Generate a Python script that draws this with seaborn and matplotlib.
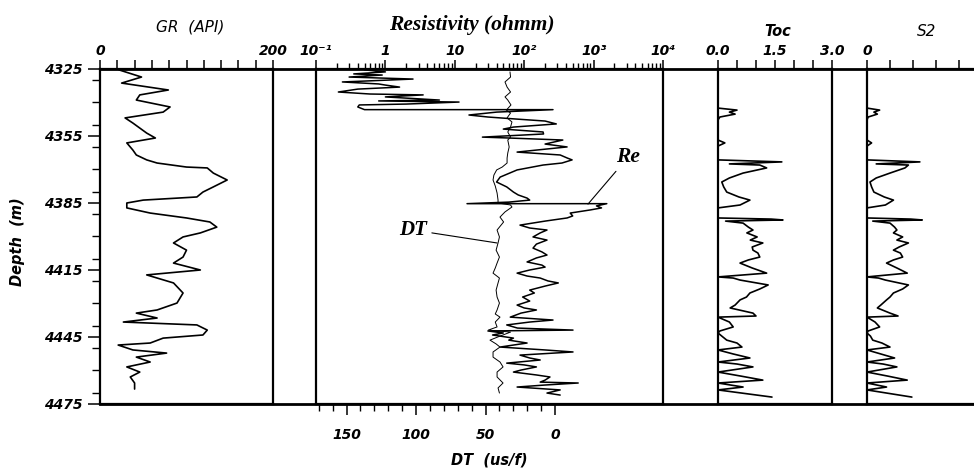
import matplotlib
matplotlib.use("Agg")
import matplotlib.pyplot as plt
import seaborn as sns
import pandas as pd
from matplotlib.ticker import FixedLocator, FixedFormatter, LogLocator, NullFormatter, MultipleLocator

# ---------------- data ----------------
gr_depth = [4325.4, 4328.6, 4331.3, 4334.4, 4336.6, 4338.9, 4342.0, 4344.3, 4346.9, 4349.2,
            4353.7, 4355.9, 4358.1, 4361.3, 4363.5, 4365.7, 4367.1, 4368.9, 4369.3, 4371.6,
            4374.7, 4377.8, 4380.1, 4382.3, 4383.7, 4385.0, 4387.2, 4389.5, 4391.7, 4393.5,
            4395.8, 4398.4, 4400.2, 4402.9, 4406.1, 4409.2, 4411.9, 4415.0, 4417.2, 4420.8,
            4425.3, 4429.8, 4432.9, 4434.3, 4436.5, 4438.3, 4439.6, 4441.9, 4444.1, 4445.5,
            4447.7, 4448.6, 4450.8, 4452.2, 4454.0, 4456.2, 4458.4, 4460.7, 4462.9, 4465.6,
            4468.3]
gr_api = [22, 48, 25, 79, 46, 42, 81, 73, 29, 38,
          54, 64, 31, 38, 42, 54, 66, 100, 124, 131,
          147, 131, 119, 112, 50, 31, 31, 58, 100, 127,
          135, 116, 96, 85, 100, 96, 85, 116, 54, 85,
          96, 89, 66, 42, 66, 27, 112, 124, 119, 73,
          58, 21, 38, 77, 42, 58, 31, 46, 35, 40,
          40]

re_depth = [4325.4, 4326.3, 4327.2, 4327.7, 4328.6, 4329.5, 4330.4, 4330.8, 4331.7, 4332.2,
            4333.1, 4334.0, 4335.3, 4336.2, 4336.6, 4337.5, 4338.9, 4339.3, 4339.8, 4340.7,
            4341.1, 4342.0, 4343.2, 4343.2, 4344.3, 4345.6, 4346.5, 4347.4, 4348.3, 4349.6,
            4351.0, 4351.9, 4353.2, 4354.1, 4355.5, 4355.9, 4356.8, 4358.6, 4359.9, 4361.3,
            4362.2, 4363.5, 4364.9, 4365.7, 4367.1, 4368.0, 4370.2, 4373.4, 4375.6, 4377.8,
            4380.1, 4381.4, 4382.8, 4383.7, 4384.6, 4385.3, 4385.3, 4386.3, 4387.2, 4388.1,
            4389.5, 4390.8, 4391.7, 4393.1, 4394.9, 4396.2, 4397.1, 4398.4, 4400.2, 4401.6,
            4403.4, 4405.2, 4406.9, 4408.3, 4409.6, 4411.4, 4412.8, 4413.7, 4415.0, 4416.4,
            4417.7, 4418.6, 4419.9, 4420.8, 4422.2, 4424.0, 4425.3, 4427.1, 4428.9, 4430.7,
            4432.0, 4432.9, 4434.3, 4436.1, 4437.4, 4438.3, 4439.6, 4441.0, 4441.9, 4442.3,
            4443.2, 4444.1, 4445.5, 4446.4, 4447.7, 4448.6, 4449.5, 4450.8, 4451.7, 4453.1,
            4454.4, 4455.3, 4456.7, 4457.5, 4458.4, 4459.8, 4460.7, 4462.0, 4462.9, 4464.3,
            4465.2, 4465.6, 4466.5, 4467.4, 4468.7, 4470.1, 4471.0]
re_ohmm = [0.5, 1.0, 0.35, 0.9, 0.3, 2.5, 0.5, 0.24, 0.8, 1.0,
           1.6, 0.4, 0.21, 0.6, 3.5, 1.0, 6, 0.8, 11.5, 2,
           0.42, 0.4, 0.5, 260, 40, 16, 30, 76, 200, 290,
           70, 50, 187, 190, 25, 60, 360, 200, 415, 150,
           79, 330, 420, 490, 350, 187, 79, 45, 40, 56,
           70, 82, 110, 120, 60, 15, 1550, 1100, 1300, 900,
           460, 500, 415, 200, 87, 120, 213, 170, 134, 213,
           150, 134, 180, 213, 150, 110, 180, 200, 120, 79,
           110, 170, 220, 310, 200, 120, 140, 95, 120, 79,
           100, 150, 90, 63, 260, 120, 56, 80, 505, 30,
           50, 35, 70, 60, 110, 70, 45, 200, 505, 87,
           120, 170, 56, 100, 150, 90, 70, 150, 235, 200,
           170, 600, 200, 79, 330, 213, 330]

dt_depth = [4326.3, 4328.6, 4330.8, 4333.1, 4335.3, 4337.5, 4338.9, 4341.1, 4343.4, 4344.7,
            4346.9, 4348.7, 4351.0, 4353.2, 4355.5, 4356.8, 4359.9, 4362.6, 4364.9, 4367.1,
            4368.9, 4370.2, 4372.5, 4374.7, 4377.4, 4380.5, 4383.7, 4385.0, 4385.9, 4386.8,
            4389.0, 4391.3, 4393.5, 4397.1, 4400.2, 4402.9, 4406.1, 4409.2, 4411.9, 4414.1,
            4416.4, 4418.6, 4420.8, 4424.0, 4427.1, 4429.8, 4432.9, 4434.7, 4436.1, 4438.3,
            4440.5, 4441.9, 4442.8, 4444.6, 4446.4, 4448.1, 4449.5, 4451.7, 4454.0, 4456.2,
            4458.4, 4460.7, 4462.9, 4465.6, 4467.8, 4470.1]
dt_usf = [32.4, 32, 36, 34.5, 32, 36, 34, 31.7, 35, 32,
          34.5, 31, 32, 34, 32, 34, 33, 34, 34.5, 34.5,
          38, 42, 44, 44.6, 43, 41.7, 41, 41, 32, 31,
          36, 39.6, 37, 41.7, 40, 41, 42.4, 40, 41.7, 43,
          44.6, 40, 41, 42.4, 41.7, 40, 41.7, 43, 39.6, 43,
          41.7, 48, 32, 39.6, 46.8, 42.4, 39.6, 44.6, 44.6, 39.6,
          37.4, 41.7, 41.7, 37.4, 41, 40]

geo_depth = [4326.3, 4342.5, 4343.4, 4344.3, 4345.2, 4346.5, 4347.8, 4356.8, 4358.1, 4359.5,
             4365.7, 4366.6, 4367.5, 4368.0, 4369.3, 4371.6, 4373.8, 4375.6, 4377.8, 4380.1,
             4382.3, 4383.7, 4385.9, 4387.2, 4391.7, 4392.2, 4392.6, 4393.1, 4394.0, 4395.8,
             4397.1, 4398.4, 4400.2, 4401.6, 4402.9, 4404.7, 4406.1, 4407.4, 4409.2, 4410.5,
             4411.9, 4414.1, 4416.4, 4417.7, 4418.1, 4418.6, 4419.5, 4421.7, 4423.5, 4425.3,
             4427.1, 4428.4, 4430.7, 4432.0, 4434.3, 4435.6, 4436.1, 4438.3, 4440.5, 4442.3,
             4443.2, 4444.6, 4446.4, 4447.7, 4449.5, 4450.8, 4452.6, 4454.4, 4456.2, 4457.1,
             4458.4, 4460.7, 4462.5, 4464.3, 4465.6, 4467.4, 4468.7, 4471.9]
toc_pct = [0.0, 0.0, 0.5, 0.3, 0.45, 0.05, 0.0, 0.0, 0.18, 0.0,
           0.0, 1.68, 0.3, 1.1, 1.28, 0.66, 0.3, 0.1, 0.15, 0.23,
           0.55, 0.84, 0.58, 0.0, 0.0, 1.4, 1.71, 0.2, 0.66, 0.8,
           0.92, 0.76, 1.03, 0.85, 1.18, 0.9, 0.92, 1.05, 1.1, 0.8,
           0.58, 0.9, 1.28, 0.3, 0.0, 0.4, 0.58, 1.32, 1.1, 0.84,
           0.75, 0.58, 0.45, 0.32, 0.92, 1.0, 0.0, 0.3, 0.4, 0.05,
           0.0, 0.1, 0.23, 0.5, 0.63, 0.0, 0.4, 0.84, 0.0, 0.5,
           0.92, 0.0, 0.6, 1.18, 0.0, 0.66, 0.0, 1.42]
s2_mgg = [0.0, 0.0, 1.1, 0.6, 0.9, 0.1, 0.0, 0.0, 0.4, 0.0,
          0.0, 4.6, 0.8, 3.6, 3.3, 2.0, 0.8, 0.26, 0.4, 0.6,
          1.5, 2.3, 1.6, 0.0, 0.0, 3.8, 4.8, 0.5, 2.0, 2.4,
          2.6, 2.3, 3.1, 2.6, 3.6, 2.8, 2.3, 2.9, 3.1, 2.3,
          1.7, 2.6, 3.5, 0.8, 0.0, 1.0, 1.6, 3.6, 3.1, 2.3,
          2.0, 1.7, 1.2, 0.9, 2.0, 2.7, 0.0, 0.7, 1.1, 0.1,
          0.0, 0.3, 0.5, 1.3, 2.0, 0.0, 1.2, 2.4, 0.0, 1.4,
          2.6, 0.0, 1.8, 3.5, 0.0, 1.7, 0.0, 3.9]

depth_ticks = [4325, 4355, 4385, 4415, 4445, 4475]
res_ticks = [0.1, 1, 10, 100, 1000, 10000]
res_labels = ["10⁻¹", "1", "10", "10²", "10³", "10⁴"]
dt_ticks = [150, 100, 50, 0]

# ---------------- style ----------------
sns.set_style("white")
plt.rcParams["font.family"] = ["DejaVu Sans"]
plt.rcParams["text.color"] = "black"
plt.rcParams["axes.labelcolor"] = "black"
plt.rcParams["xtick.color"] = "black"
plt.rcParams["ytick.color"] = "black"
plt.rcParams["xtick.labelcolor"] = "black"
plt.rcParams["ytick.labelcolor"] = "black"
SERIF = ["Liberation Serif", "DejaVu Serif"]
TICKFONT = dict(fontsize=10, fontstyle="italic", fontweight="bold", color="black")

W, Hpx = 974, 470
fig = plt.figure(figsize=(W / 100, Hpx / 100), dpi=100)
B = (Hpx - 404) / Hpx
H = 335 / Hpx

def px(x0, x1):
    return [x0 / W, B, (x1 - x0) / W, H]

SP_LW = 1.6

bg = fig.add_axes(px(100, 974))
bg.set_xticks([]); bg.set_yticks([])
for s in ["left", "right"]:
    bg.spines[s].set_visible(False)
for s in ["top", "bottom"]:
    bg.spines[s].set_linewidth(2.0)
    bg.spines[s].set_color("black")
bg.patch.set_alpha(0)

def top_ticks(ax):
    ax.xaxis.tick_top()
    ax.tick_params(axis="x", which="major", direction="out", length=6.5, width=1.1, pad=1.5, colors="black")
    ax.tick_params(axis="x", which="minor", direction="out", length=4.3, width=1.0, colors="black")

def track(x0, x1, right=True):
    ax = fig.add_axes(px(x0, x1))
    ax.patch.set_alpha(0)
    for s in ["left", "right", "top", "bottom"]:
        ax.spines[s].set_color("black")
        ax.spines[s].set_linewidth(SP_LW)
    ax.spines["right"].set_visible(right)
    ax.set_ylim(4475, 4325)
    top_ticks(ax)
    ax.tick_params(axis="y", which="both", left=False, right=False, labelleft=False)
    return ax

def line(ax, xs, ys, lw):
    df = pd.DataFrame({"v": xs, "d": ys})
    sns.lineplot(data=df, x="v", y="d", sort=False, estimator=None, orient="y",
                 color="black", lw=lw, ax=ax)
    ax.set_xlabel(""); ax.set_ylabel("")

# GR track
ax_gr = track(100, 273)
line(ax_gr, gr_api, gr_depth, 1.2)
ax_gr.set_xlim(0, 200)
ax_gr.set_ylim(4475, 4325)
ax_gr.xaxis.set_major_locator(FixedLocator(list(range(0, 201, 20))))
ax_gr.xaxis.set_major_formatter(FixedFormatter(["0"] + [""] * 9 + ["200"]))
ax_gr.yaxis.set_major_locator(FixedLocator(depth_ticks))
ax_gr.yaxis.set_minor_locator(MultipleLocator(10))
ax_gr.tick_params(axis="y", which="major", left=True, labelleft=True, direction="out",
                  length=8.6, width=1.1, pad=4, colors="black")
ax_gr.tick_params(axis="y", which="minor", left=True, direction="out", length=5.8, width=1.0, colors="black")
for lab in ax_gr.get_xticklabels() + ax_gr.get_yticklabels():
    lab.set(**TICKFONT)

# Resistivity track
ax_res = track(316, 663)
ax_res.set_xscale("log")
line(ax_res, re_ohmm, re_depth, 1.1)
ax_res.set_xlim(0.1, 10000)
ax_res.set_ylim(4475, 4325)

# DT on twin axis (bottom scale)
ax_dt = ax_res.twiny()
ax_dt.patch.set_alpha(0)
for s in ax_dt.spines.values():
    s.set_visible(False)
line(ax_dt, dt_usf, dt_depth, 0.7)
ax_dt.set_xlim(172, -77.7)
ax_dt.set_ylim(4475, 4325)
ax_dt.xaxis.set_ticks_position("bottom")
ax_dt.xaxis.set_label_position("bottom")
ax_dt.xaxis.set_major_locator(FixedLocator(dt_ticks))
ax_dt.xaxis.set_minor_locator(FixedLocator(list(range(170, -1, -10))))
ax_dt.tick_params(axis="x", which="major", direction="out", length=8, width=1.1, pad=9, colors="black")
ax_dt.tick_params(axis="x", which="minor", direction="out", length=5, width=1.0, colors="black")
for lab in ax_dt.get_xticklabels():
    lab.set(**TICKFONT)
ax_dt.set_xlabel("DT  (us/f)", fontsize=10.5, fontstyle="italic", fontweight="bold",
                 labelpad=8, color="black")

# restore the resistivity scale on top (twiny moves it to the bottom)
top_ticks(ax_res)
ax_res.xaxis.set_label_position("top")
ax_res.xaxis.set_major_locator(FixedLocator(res_ticks))
ax_res.xaxis.set_major_formatter(FixedFormatter(res_labels))
ax_res.xaxis.set_minor_locator(LogLocator(base=10, subs=range(2, 10)))
ax_res.xaxis.set_minor_formatter(NullFormatter())
for lab in ax_res.get_xticklabels():
    lab.set(**TICKFONT)

ax_res.annotate("Re", xy=(830, 4385.5), xytext=(3150, 4364.4), ha="center", va="center",
                fontsize=15.5, fontstyle="italic", fontweight="bold", family=SERIF, color="black",
                arrowprops=dict(arrowstyle="-", color="black", lw=0.8, shrinkA=1, shrinkB=0))
ax_dt.annotate("DT", xy=(41.7, 4402.9), xytext=(102, 4397.1), ha="center", va="center",
               fontsize=15, fontstyle="italic", fontweight="bold", family=SERIF, color="black",
               arrowprops=dict(arrowstyle="-", color="black", lw=0.8, shrinkA=1, shrinkB=0))

# TOC track
ax_toc = track(718, 832)
line(ax_toc, toc_pct, geo_depth, 1.2)
ax_toc.set_xlim(0, 3)
ax_toc.set_ylim(4475, 4325)
ax_toc.xaxis.set_major_locator(FixedLocator([0, 0.5, 1.0, 1.5, 2.0, 2.5, 3.0]))
ax_toc.xaxis.set_major_formatter(FixedFormatter(["0.0", "", "", "1.5", "", "", "3.0"]))
for lab in ax_toc.get_xticklabels():
    lab.set(**TICKFONT)

# S2 track
ax_s2 = track(867, 974, right=False)
line(ax_s2, s2_mgg, geo_depth, 1.2)
ax_s2.set_xlim(0, 107 / 11.5)
ax_s2.set_ylim(4475, 4325)
ax_s2.xaxis.set_major_locator(FixedLocator([0, 2, 4, 6, 8]))
ax_s2.xaxis.set_major_formatter(FixedFormatter(["0", "", "", "", ""]))
for lab in ax_s2.get_xticklabels():
    lab.set(**TICKFONT)

# Track titles
fig.text(190 / W, 1 - 27 / Hpx, "GR  (API)", ha="center", va="center", fontsize=11, fontstyle="italic")
fig.text(472 / W, 1 - 25 / Hpx, "Resistivity (ohmm)", ha="center", va="center", fontsize=15.5,
         fontstyle="italic", fontweight="bold", family=SERIF)
fig.text(778 / W, 1 - 31 / Hpx, "Toc", ha="center", va="center", fontsize=10.5,
         fontstyle="italic", fontweight="bold")
fig.text(927 / W, 1 - 31 / Hpx, "S2", ha="center", va="center", fontsize=11, fontstyle="italic")
fig.text(18 / W, 1 - 242 / Hpx, "Depth  (m)", ha="center", va="center", rotation=90,
         fontsize=10.5, fontstyle="italic", fontweight="bold")

fig.savefig("out.png", dpi=100, facecolor="white")
